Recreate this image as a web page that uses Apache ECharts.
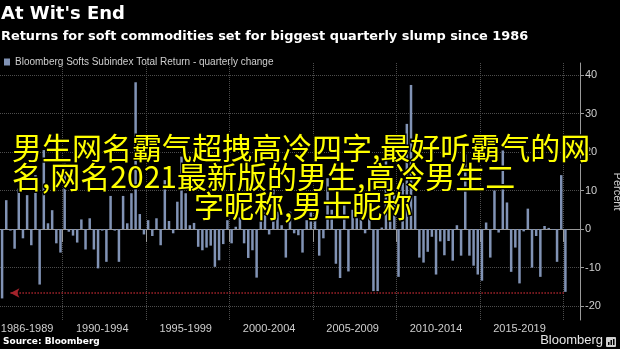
<!DOCTYPE html>
<html><head><meta charset="utf-8">
<script src="https://cdn.jsdelivr.net/npm/echarts@6/dist/echarts.min.js"></script>
<style>html,body{margin:0;padding:0;background:#000;}#c{width:620px;height:349px;}</style>
</head><body><div id="c"></div>
<script>
const titleText = "At Wit's End";
const subtitleText = "Returns for soft commodities set for biggest quarterly slump since 1986";
const seriesName = "Bloomberg Softs Subindex Total Return - quarterly change";

// quarterly change, 1986 Q2 .. 2020 Q1 (percent)
const quarterlyChange = [
  -18.0, 7.5, -0.4, -5.1, 10.5, -2.4, 8.8, -4.2, 14.0, -14.4,
  20.5, 1.5, 4.9, -3.7, -6.1, 17.1, -0.7, -1.7, -3.5, 2.5,
  -5.3, 2.8, -5.3, -10.2, -0.4, -8.5, 8.6, -0.4, -8.5, 8.6,
  1.5, 9.3, 38.1, 3.9, -1.4, 2.3, -1.8, 2.8, -4.2, 12.7,
  2.1, -1.1, 7.1, 18.8, 9.3, 1.0, 1.6, -4.6, -5.5, -4.8,
  -4.3, -9.8, -8.1, -3.9, 2.3, -3.7, 0.6, 3.0, -3.7, -7.5,
  -5.5, -12.6, 3.6, 5.5, -1.4, 10.5, 4.5, 1.0, -7.4, 4.5,
  -1.1, -1.6, -6.1, 2.3, 4.5, 3.0, -6.9, -2.4, 13.2, 5.0,
  -9.0, -12.7, 6.2, -11.0, 5.0, 4.5, 2.8, -1.1, 2.8, -16.1,
  -16.1, 0.4, 17.9, 13.0, 9.0, -12.4, 12.0, 27.3, 37.4, 8.6,
  -7.4, -8.7, -5.9, -2.0, -11.8, -3.2, -6.8, -3.1, -8.2, 1.0,
  -6.9, 19.4, -6.9, -9.5, -11.8, -13.4, 1.7, -7.4, 10.0, -0.9,
  20.4, 6.9, -11.1, -4.8, -14.1, -0.6, 5.3, -10.0, -1.8, -12.4,
  0.8, 0.3, -0.2, -8.5, 14.0, -16.3
];
const firstYear = 1986, firstQuarter = 2;
const paddingQuarters = ["2020 Q2", "2020 Q3", "2020 Q4"];
const periodLabels = ["1986-1989", "1990-1994", "1995-1999", "2000-2004", "2005-2009", "2010-2014", "2015-2019"];
const periodLabelAt = ["1987 Q4", "1992 Q2", "1997 Q2", "2002 Q2", "2007 Q2", "2012 Q2", "2017 Q2"];
const periodStarts = ["1990 Q1", "1995 Q1", "2000 Q1", "2005 Q1", "2010 Q1", "2015 Q1", "2020 Q1"];
const yTicks = [-20, -10, 0, 10, 20, 30, 40];
const yMin = -23.6, yMax = 43.1;
const referenceLevel = -16.6;
const referenceFrom = "1986 Q4", referenceTo = "2020 Q1";
const overlayLines = [
  "男生网名霸气超拽高冷四字,最好听霸气的网",
  "名,网名2021最新版的男生,高冷男生二",
  "字昵称,男士昵称"
];

const quarters = [];
{
  let y = firstYear, q = firstQuarter;
  for (let i = 0; i < quarterlyChange.length; i++) {
    quarters.push(y + " Q" + q);
    q++; if (q > 4) { q = 1; y++; }
  }
}
const categories = quarters.concat(paddingQuarters);
const boundarySet = new Set(periodStarts.map(q => categories.indexOf(q)));
const labelMap = {};
periodLabelAt.forEach((q, i) => { labelMap[q] = periodLabels[i]; });

const barColor = "#8193b5";
const axisColor = "#9a9a9a";
const gridColor = "#4d4d4d";
const textColor = "#cfcfcf";
const sans = "'Liberation Sans', Arial, sans-serif";
const wide = "'DejaVu Sans', sans-serif";

const chart = echarts.init(document.getElementById("c"), null, {renderer: "canvas"});
const overlayPos = [[12, 148], [12, 177], [194, 206]];
const option = {
  backgroundColor: "#000",
  animation: false,
  title: [
    {text: titleText, left: 1, top: 5, padding: 0,
     textStyle: {color: "#fff", fontSize: 18, fontWeight: "bold", fontFamily: wide}},
    {text: subtitleText, left: 1, top: 30, padding: 0,
     textStyle: {color: "#fff", fontSize: 12.9, fontWeight: "bold", fontFamily: wide}},
    {text: "Source: Bloomberg", left: 3, top: 337, padding: 0,
     textStyle: {color: "#fff", fontSize: 9, fontWeight: "bold", fontFamily: wide}},
    {text: "Bloomberg", right: 17, top: 334, padding: 0,
     textStyle: {color: "#e6e6e6", fontSize: 13, fontWeight: "normal", fontFamily: sans}}
  ],
  legend: {
    left: 4, top: 57, padding: 0, icon: "rect", itemWidth: 6, itemHeight: 7,
    textStyle: {color: textColor, fontSize: 10, fontFamily: "'Liberation Sans Narrow', " + sans}
  },
  grid: {left: 0, right: 40, top: 63, bottom: 29, containLabel: false, outerBoundsMode: "none"},
  xAxis: {
    type: "category", data: categories, boundaryGap: true,
    axisLine: {lineStyle: {color: axisColor}},
    axisTick: {show: true, interval: (i) => boundarySet.has(i), length: 13, lineStyle: {color: axisColor}},
    axisLabel: {interval: (i, v) => (v in labelMap), formatter: (v) => labelMap[v] || "",
                color: textColor, fontSize: 11, margin: 3, fontFamily: sans},
    splitLine: {show: true, interval: (i) => boundarySet.has(i), lineStyle: {color: gridColor, type: "dotted"}}
  },
  yAxis: {
    type: "value", position: "right", min: yMin, max: yMax,
    name: "Percent", nameLocation: "middle", nameRotate: -90, nameGap: 24,
    nameTextStyle: {color: textColor, fontSize: 11, fontFamily: sans},
    axisLine: {show: true, lineStyle: {color: axisColor}},
    axisTick: {show: true, customValues: yTicks, length: 4, lineStyle: {color: axisColor}},
    axisLabel: {customValues: yTicks, color: textColor, fontSize: 11, margin: 5, fontFamily: sans},
    splitLine: {show: true, lineStyle: {color: gridColor, type: "dotted"}}
  },
  series: [{
    name: seriesName, type: "bar", data: quarterlyChange, barWidth: 2.5,
    itemStyle: {color: barColor},
    markLine: {
      silent: true, symbol: ["arrow", "none"], symbolSize: [7, 9],
      label: {show: false},
      lineStyle: {color: "#a3232b", type: "dotted", width: 1.5},
      data: [[{coord: [referenceFrom, referenceLevel]}, {coord: [referenceTo, referenceLevel]}]]
    }
  }],
  graphic: overlayLines.map((t, i) => ({
    type: "text", z: 100, x: overlayPos[i][0], y: overlayPos[i][1],
    style: {text: t, font: "30px 'Noto Sans CJK SC'", fill: "#ffff00", stroke: "#000", lineWidth: 3,
            strokeFirst: true, align: "left", verticalAlign: "middle"}
  })).concat([
    {type: "rect", z: 50, shape: {x: 606, y: 337, width: 10, height: 10, r: 1}, style: {fill: "#cfcfcf"}},
    {type: "rect", z: 51, shape: {x: 608, y: 342, width: 1.5, height: 3}, style: {fill: "#000"}},
    {type: "rect", z: 51, shape: {x: 610.5, y: 340, width: 1.5, height: 5}, style: {fill: "#000"}},
    {type: "rect", z: 51, shape: {x: 613, y: 339, width: 1.5, height: 6}, style: {fill: "#000"}}
  ])
};
chart.setOption(option);
</script>
</body></html>
